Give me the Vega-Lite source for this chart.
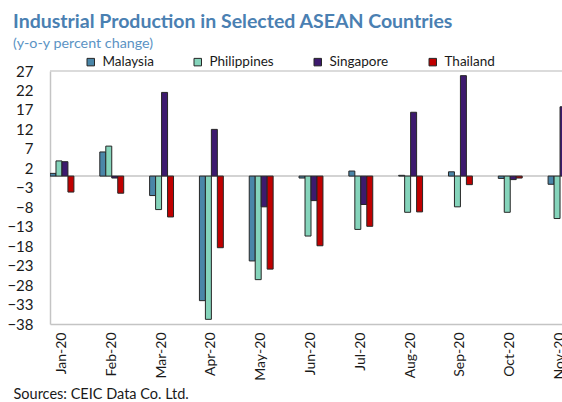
{
  "$schema": "https://vega.github.io/schema/vega-lite/v6.json",
  "autosize": {"type": "none"},
  "width": 512,
  "height": 253,
  "padding": {"left": 50, "top": 71, "right": 0, "bottom": 78},
  "background": "white",
  "config": {"view": {"stroke": null}, "font": "Lato"},
  "title": {
    "text": "Industrial Production in Selected ASEAN Countries",
    "subtitle": "(y-o-y percent change)",
    "anchor": "start",
    "frame": "group",
    "dx": -37,
    "offset": 3,
    "font": "Lato",
    "fontSize": 19.5,
    "fontWeight": "bold",
    "color": "#4a80b2",
    "subtitleFont": "Lato",
    "subtitleFontSize": 14.3,
    "subtitleColor": "#5b93c4",
    "subtitlePadding": 4
  },
  "datasets": {
    "ip": [
      {"month": "Jan-20", "country": "Malaysia", "value": 0.7},
      {"month": "Jan-20", "country": "Philippines", "value": 3.9},
      {"month": "Jan-20", "country": "Singapore", "value": 3.7},
      {"month": "Jan-20", "country": "Thailand", "value": -4.1},
      {"month": "Feb-20", "country": "Malaysia", "value": 6.2},
      {"month": "Feb-20", "country": "Philippines", "value": 7.7},
      {"month": "Feb-20", "country": "Singapore", "value": -0.5},
      {"month": "Feb-20", "country": "Thailand", "value": -4.4},
      {"month": "Mar-20", "country": "Malaysia", "value": -5.0},
      {"month": "Mar-20", "country": "Philippines", "value": -8.6},
      {"month": "Mar-20", "country": "Singapore", "value": 21.5},
      {"month": "Mar-20", "country": "Thailand", "value": -10.5},
      {"month": "Apr-20", "country": "Malaysia", "value": -32.0},
      {"month": "Apr-20", "country": "Philippines", "value": -36.8},
      {"month": "Apr-20", "country": "Singapore", "value": 12.0},
      {"month": "Apr-20", "country": "Thailand", "value": -18.4},
      {"month": "May-20", "country": "Malaysia", "value": -21.8},
      {"month": "May-20", "country": "Philippines", "value": -26.6},
      {"month": "May-20", "country": "Singapore", "value": -7.9},
      {"month": "May-20", "country": "Thailand", "value": -23.9},
      {"month": "Jun-20", "country": "Malaysia", "value": -0.5},
      {"month": "Jun-20", "country": "Philippines", "value": -15.4},
      {"month": "Jun-20", "country": "Singapore", "value": -6.3},
      {"month": "Jun-20", "country": "Thailand", "value": -17.9},
      {"month": "Jul-20", "country": "Malaysia", "value": 1.3},
      {"month": "Jul-20", "country": "Philippines", "value": -13.7},
      {"month": "Jul-20", "country": "Singapore", "value": -7.3},
      {"month": "Jul-20", "country": "Thailand", "value": -12.9},
      {"month": "Aug-20", "country": "Malaysia", "value": 0.2},
      {"month": "Aug-20", "country": "Philippines", "value": -9.3},
      {"month": "Aug-20", "country": "Singapore", "value": 16.4},
      {"month": "Aug-20", "country": "Thailand", "value": -9.2},
      {"month": "Sep-20", "country": "Malaysia", "value": 1.1},
      {"month": "Sep-20", "country": "Philippines", "value": -7.9},
      {"month": "Sep-20", "country": "Singapore", "value": 25.8},
      {"month": "Sep-20", "country": "Thailand", "value": -2.2},
      {"month": "Oct-20", "country": "Malaysia", "value": -0.6},
      {"month": "Oct-20", "country": "Philippines", "value": -9.3},
      {"month": "Oct-20", "country": "Singapore", "value": -0.9},
      {"month": "Oct-20", "country": "Thailand", "value": -0.5},
      {"month": "Nov-20", "country": "Malaysia", "value": -2.1},
      {"month": "Nov-20", "country": "Philippines", "value": -10.9},
      {"month": "Nov-20", "country": "Singapore", "value": 17.8}
    ],
    "lines": [
      {"level": 0, "kind": "zero"},
      {"level": 27, "kind": "top"}
    ]
  },
  "layer": [
    {
      "data": {"name": "lines"},
      "mark": {"type": "rule", "strokeWidth": 1.5},
      "encoding": {
        "y": {
          "field": "level",
          "type": "quantitative",
          "scale": {"domain": [-38, 27], "nice": false, "zero": false},
          "axis": {
            "values": [27, 22, 17, 12, 7, 2, -3, -8, -13, -18, -23, -28, -33, -38],
            "labelFontSize": 15,
            "labelColor": "#1a1a1a",
            "labelPadding": 17,
            "ticks": false,
            "tickSize": 0,
            "grid": false,
            "domainColor": "#c4c4c4",
            "domainWidth": 1.5,
            "title": null,
            "labelOverlap": false
          }
        },
        "color": {"field": "kind", "type": "nominal", "scale": {"domain": ["zero", "top"], "range": ["#c4c4c4", "#cfcfcf"]}, "legend": null}
      }
    },
    {
      "data": {"name": "ip"},
      "mark": {"type": "bar", "stroke": "#262626", "strokeWidth": 1, "clip": true},
      "encoding": {
        "x": {
          "field": "month",
          "type": "nominal",
          "sort": null,
          "scale": {
            "domain": ["Jan-20", "Feb-20", "Mar-20", "Apr-20", "May-20", "Jun-20", "Jul-20", "Aug-20", "Sep-20", "Oct-20", "Nov-20"],
            "range": [0, 522],
            "paddingInner": 0.52,
            "paddingOuter": 0
          },
          "axis": {
            "labelAngle": -90,
            "labelAlign": "right",
            "labelBaseline": "middle",
            "labelPadding": 8,
            "labelFontSize": 14,
            "labelColor": "#1a1a1a",
            "ticks": false,
            "tickSize": 0,
            "domainColor": "#c4c4c4",
            "domainWidth": 1.5,
            "title": "Sources: CEIC Data Co. Ltd.",
            "titleAnchor": "start",
            "titleAlign": "left",
            "titleBaseline": "alphabetic",
            "titleX": -37,
            "titleY": 74,
            "titleFontSize": 14.5,
            "titleFontWeight": "normal",
            "titleColor": "#1a1a1a",
            "labelOverlap": false
          }
        },
        "xOffset": {
          "field": "country",
          "type": "nominal",
          "scale": {"domain": ["Malaysia", "Philippines", "Singapore", "Thailand"], "paddingInner": 0, "paddingOuter": 0}
        },
        "y": {
          "field": "value",
          "type": "quantitative",
          "scale": {"domain": [-38, 27], "nice": false, "zero": false},
          "axis": {
            "values": [27, 22, 17, 12, 7, 2, -3, -8, -13, -18, -23, -28, -33, -38],
            "labelFontSize": 15,
            "labelColor": "#1a1a1a",
            "labelPadding": 17,
            "ticks": false,
            "tickSize": 0,
            "grid": false,
            "domainColor": "#c4c4c4",
            "domainWidth": 1.5,
            "title": null,
            "labelOverlap": false
          }
        },
        "color": {
          "field": "country",
          "type": "nominal",
          "scale": {"domain": ["Malaysia", "Philippines", "Singapore", "Thailand"], "range": ["#4a86a8", "#85d4bb", "#3d1a6e", "#c00000"]},
          "legend": {
            "orient": "none",
            "legendX": 34,
            "legendY": -16,
            "direction": "horizontal",
            "title": null,
            "symbolType": "square",
            "symbolSize": 56,
            "symbolStrokeColor": "#262626",
            "symbolStrokeWidth": 1,
            "labelFontSize": 13.5,
            "labelColor": "#1a1a1a",
            "labelOffset": 5,
            "columnPadding": 37
          }
        }
      }
    }
  ],
  "resolve": {"scale": {"color": "independent"}}
}
